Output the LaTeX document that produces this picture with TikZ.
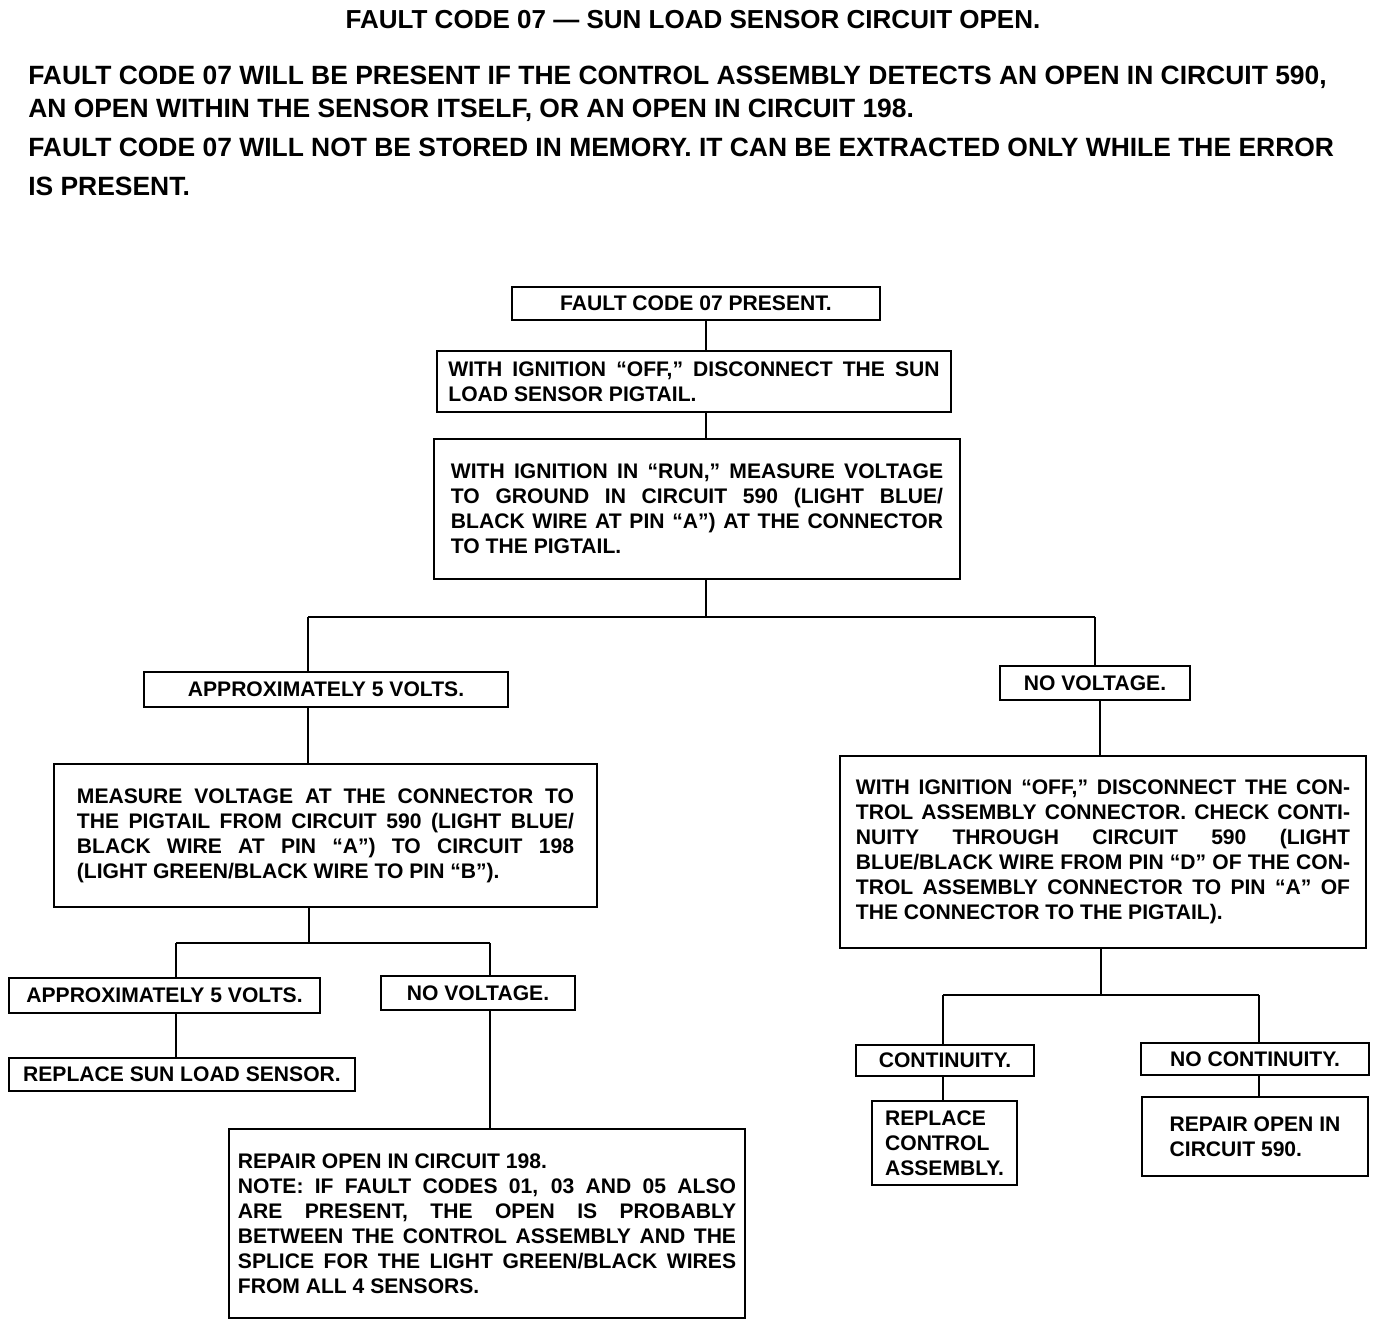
\documentclass[tikz,border=0pt]{standalone}
\usepackage{fontspec}
\setmainfont{Liberation Sans}
\usetikzlibrary{positioning,calc}

\begin{document}
\begin{tikzpicture}[x=0.025cm, y=-0.025cm,
    font=\fontsize{15}{17.8}\selectfont\bfseries,
    box/.style={draw, line width=2pt, inner sep=0pt, align=center},
    txtbox/.style={box, align=justify},
    hdr/.style={anchor=west, inner sep=0pt, font=\fontsize{18.8}{22}\selectfont\bfseries},
    link/.style={line width=1.6pt}]
    \useasboundingbox (0,0) rectangle (1392,1328);

    % En-tete
    \node[inner sep=0pt, font=\fontsize{18.5}{22}\selectfont\bfseries] (titre) at (693,20)
    {FAULT CODE 07 --- SUN LOAD SENSOR CIRCUIT OPEN.};
    \node[hdr] (hdA) at (28,77) {FAULT CODE 07 WILL BE PRESENT IF THE CONTROL ASSEMBLY DETECTS AN OPEN IN CIRCUIT 590,};
    \node[hdr] (hdB) at (28,110) {AN OPEN WITHIN THE SENSOR ITSELF, OR AN OPEN IN CIRCUIT 198.};
    \node[hdr] (hdC) at (28,147) {FAULT CODE 07 WILL NOT BE STORED IN MEMORY. IT CAN BE EXTRACTED ONLY WHILE THE ERROR};
    \node[hdr] (hdD) at (28,186) {IS PRESENT.};

    % Boites du tronc
    \node[box, minimum width=9.2cm, minimum height=0.825cm] (present) at (696,303.5)
    {FAULT CODE 07 PRESENT.};
    \node[txtbox, minimum width=12.85cm, minimum height=1.525cm, text width=12.275cm] (offA) at (694,381.5)
    {WITH IGNITION ``OFF,'' DISCONNECT THE SUN\linebreak LOAD SENSOR PIGTAIL.};
    \node[txtbox, minimum width=13.15cm, minimum height=3.5cm, text width=12.3cm] (run) at (697,509)
    {WITH IGNITION IN ``RUN,'' MEASURE VOLTAGE\linebreak
     TO GROUND IN CIRCUIT 590 (LIGHT BLUE/\linebreak
     BLACK WIRE AT PIN ``A'') AT THE CONNECTOR\linebreak
     TO THE PIGTAIL.};

    % Branche gauche
    \node[box, minimum width=9.1cm, minimum height=0.875cm] (cinqA) at (326,689.5)
    {APPROXIMATELY 5 VOLTS.};
    \node[txtbox, minimum width=13.575cm, minimum height=3.575cm, text width=12.425cm] (mesure) at (325.5,835.5)
    {MEASURE VOLTAGE AT THE CONNECTOR TO\linebreak
     THE PIGTAIL FROM CIRCUIT 590 (LIGHT BLUE/\linebreak
     BLACK WIRE AT PIN ``A'') TO CIRCUIT 198\linebreak
     (LIGHT GREEN/BLACK WIRE TO PIN ``B'').};
    \node[box, minimum width=7.775cm, minimum height=0.875cm] (cinqB) at (164.5,995.5)
    {APPROXIMATELY 5 VOLTS.};
    \node[box, minimum width=4.85cm, minimum height=0.85cm] (zeroB) at (478,993)
    {NO VOLTAGE.};
    \node[box, minimum width=8.65cm, minimum height=0.825cm] (capteur) at (182,1074.5)
    {REPLACE SUN LOAD SENSOR.};
    \node[txtbox, minimum width=12.9cm, minimum height=4.725cm, text width=12.45cm] (circ198) at (487,1223.5)
    {REPAIR OPEN IN CIRCUIT 198.\\
     NOTE: IF FAULT CODES 01, 03 AND 05 ALSO\linebreak
     ARE PRESENT, THE OPEN IS PROBABLY\linebreak
     BETWEEN THE CONTROL ASSEMBLY AND THE\linebreak
     SPLICE FOR THE LIGHT GREEN/BLACK WIRES\linebreak
     FROM ALL 4 SENSORS.};

    % Branche droite
    \node[box, minimum width=4.75cm, minimum height=0.85cm] (zeroA) at (1095,683)
    {NO VOLTAGE.};
    \node[txtbox, minimum width=13.15cm, minimum height=4.8cm, text width=12.35cm] (contin) at (1103,852)
    {WITH IGNITION ``OFF,'' DISCONNECT THE CON-\linebreak
     TROL ASSEMBLY CONNECTOR. CHECK CONTI-\linebreak
     NUITY THROUGH CIRCUIT 590 (LIGHT\linebreak
     BLUE/BLACK WIRE FROM PIN ``D'' OF THE CON-\linebreak
     TROL ASSEMBLY CONNECTOR TO PIN ``A'' OF\linebreak
     THE CONNECTOR TO THE PIGTAIL).};
    \node[box, minimum width=4.45cm, minimum height=0.775cm] (ouiC) at (945,1060.5)
    {CONTINUITY.};
    \node[box, minimum width=5.7cm, minimum height=0.8cm] (nonC) at (1255,1059)
    {NO CONTINUITY.};
    \node[box, align=left, minimum width=3.625cm, minimum height=2.1cm] (module) at (944.5,1143)
    {REPLACE\\ CONTROL\\ ASSEMBLY.};
    \node[box, align=left, minimum width=5.65cm, minimum height=1.975cm] (circ590) at (1255,1136.5)
    {REPAIR OPEN IN\\ CIRCUIT 590.};

    % Points de jonction
    \coordinate (tronc) at (706,617);
    \coordinate (jG) at (308,617);
    \coordinate (jD) at (1095,617);
    \coordinate (axeD) at (1100,0);
    \coordinate (jB) at (309,943);
    \coordinate (jB1) at (176,943);
    \coordinate (jB2) at (490,943);
    \coordinate (jC) at (1101,995);
    \coordinate (jC1) at (943,995);
    \coordinate (jC2) at (1259,995);

    % Liaisons
    \draw[link] (present.south -| tronc) -- (offA.north -| tronc);
    \draw[link] (offA.south -| tronc) -- (run.north -| tronc);
    \draw[link] (run.south -| tronc) -- (tronc);
    \draw[link] (jG) -- (jD);
    \draw[link] (jG) -- (cinqA.north -| jG);
    \draw[link] (jD) -- (zeroA.north -| jD);
    \draw[link] (cinqA.south -| jG) -- (mesure.north -| jG);
    \draw[link] (mesure.south -| jB) -- (jB);
    \draw[link] (jB1) -- (jB2);
    \draw[link] (jB1) -- (cinqB.north -| jB1);
    \draw[link] (jB2) -- (zeroB.north -| jB2);
    \draw[link] (cinqB.south -| jB1) -- (capteur.north -| jB1);
    \draw[link] (zeroB.south -| jB2) -- (circ198.north -| jB2);
    \draw[link] (zeroA.south -| axeD) -- (contin.north -| axeD);
    \draw[link] (contin.south -| jC) -- (jC);
    \draw[link] (jC1) -- (jC2);
    \draw[link] (jC1) -- (ouiC.north -| jC1);
    \draw[link] (jC2) -- (nonC.north -| jC2);
    \draw[link] (ouiC.south -| jC1) -- (module.north -| jC1);
    \draw[link] (nonC.south -| jC2) -- (circ590.north -| jC2);
\end{tikzpicture}
\end{document}
